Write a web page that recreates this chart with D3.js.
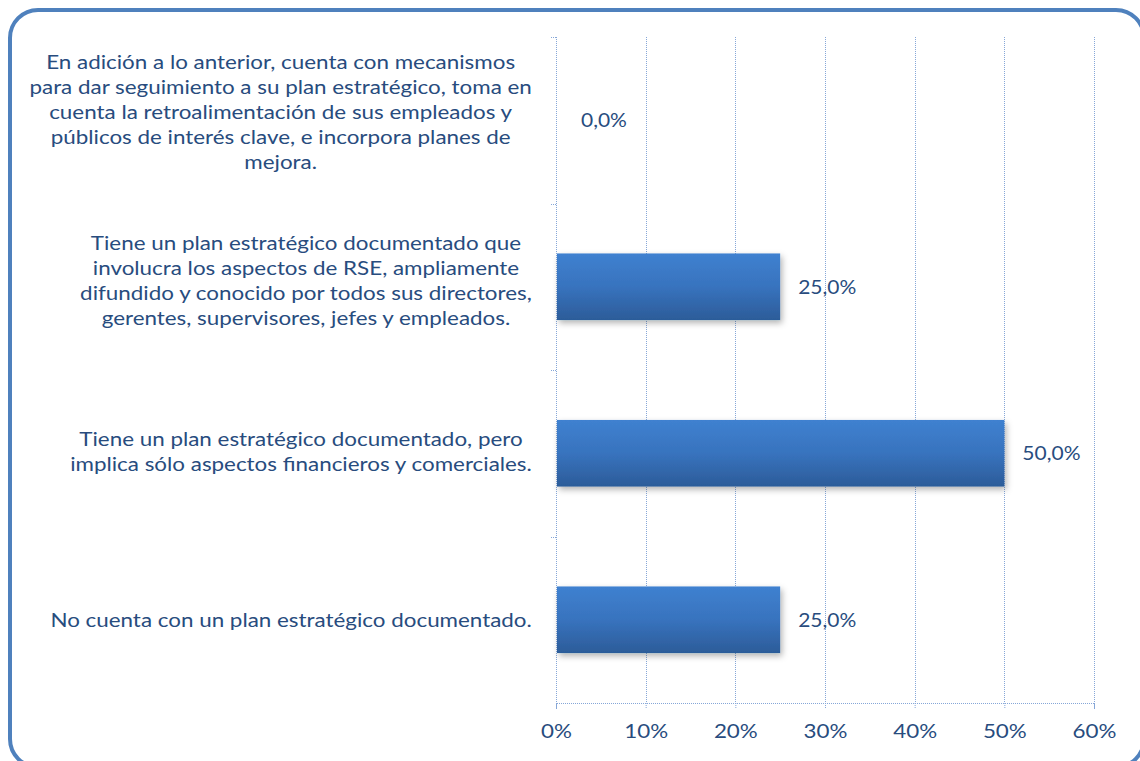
<!DOCTYPE html>
<html>
<head>
<meta charset="utf-8">
<script src="https://cdn.jsdelivr.net/npm/d3@7"></script>
<style>
  body { margin: 0; background: #fff; }
  svg { display: block; }
  text { font-family: Lato, "Open Sans", sans-serif; fill: #284c7e; }
</style>
</head>
<body>
<svg id="chart" width="1140" height="761"></svg>
<script>
// categories from top to bottom, each split into the lines shown
var categories = [
    ["En adición a lo anterior, cuenta con mecanismos",
     "para dar seguimiento a su plan estratégico, toma en",
     "cuenta la retroalimentación de sus empleados y",
     "públicos de interés clave, e incorpora planes de",
     "mejora."],
    ["Tiene un plan estratégico documentado que",
     "involucra los aspectos de RSE, ampliamente",
     "difundido y conocido por todos sus directores,",
     "gerentes, supervisores, jefes y empleados."],
    ["Tiene un plan estratégico documentado, pero",
     "implica sólo aspectos financieros y comerciales."],
    ["No cuenta con un plan estratégico documentado."]
];
var values = [0.0, 0.25, 0.50, 0.25];
var xTicks = [0, 0.1, 0.2, 0.3, 0.4, 0.5, 0.6];

var svg = d3.select("#chart"),
    margin = {top: 37, right: 46, bottom: 58, left: 556},
    width = +svg.attr("width") - margin.left - margin.right,
    height = +svg.attr("height") - margin.top - margin.bottom;

var stretch = 1.12; // text in the original is a bit wide

var defs = svg.append("defs");
var grad = defs.append("linearGradient")
    .attr("id", "barGrad")
    .attr("x1", 0).attr("y1", 0).attr("x2", 0).attr("y2", 1);
grad.append("stop").attr("offset", "0%").attr("stop-color", "#3f81d0");
grad.append("stop").attr("offset", "50%").attr("stop-color", "#3873be");
grad.append("stop").attr("offset", "100%").attr("stop-color", "#2c5c99");

var shadow = defs.append("filter").attr("id", "shadow")
    .attr("x", "-10%").attr("y", "-20%").attr("width", "130%").attr("height", "160%");
shadow.append("feDropShadow")
    .attr("dx", 2).attr("dy", 3).attr("stdDeviation", 3)
    .attr("flood-color", "#000").attr("flood-opacity", 0.3);

// outer rounded frame
svg.append("rect")
    .attr("x", 10).attr("y", 10)
    .attr("width", 1134).attr("height", 757)
    .attr("rx", 28).attr("ry", 28)
    .attr("fill", "none")
    .attr("stroke", "#4f81bd")
    .attr("stroke-width", 4);

var x = d3.scaleLinear().domain([0, 0.6]).range([0, width]);
var y = d3.scaleBand()
    .domain(d3.range(categories.length))
    .range([0, height])
    .paddingInner(0.6)
    .paddingOuter(0.3);

var g = svg.append("g")
    .attr("transform", "translate(" + margin.left + "," + margin.top + ")");

var gridColor = "#86a7d8";

// vertical dotted gridlines
g.selectAll(".grid")
    .data(xTicks.slice(1))
    .enter().append("line")
    .attr("class", "grid")
    .attr("x1", function(d) { return Math.round(x(d)) + 0.5; })
    .attr("x2", function(d) { return Math.round(x(d)) + 0.5; })
    .attr("y1", 0).attr("y2", height)
    .attr("stroke", gridColor)
    .attr("stroke-width", 1)
    .attr("stroke-dasharray", "1,1");

// bottom axis
var xAxis = g.append("g")
    .attr("transform", "translate(0," + height + ")")
    .call(d3.axisBottom(x).tickValues(xTicks).tickFormat(d3.format(".0%")).tickSize(6).tickPadding(15));
xAxis.select(".domain").attr("stroke", gridColor).attr("stroke-dasharray", "1,1");
xAxis.selectAll(".tick line").attr("stroke", gridColor).attr("stroke-dasharray", "1,1");
xAxis.selectAll(".tick text")
    .style("font-family", "Lato, 'Open Sans', sans-serif")
    .style("font-size", "20px")
    .attr("fill", "#284c7e")
    .attr("transform", "scale(" + stretch + ",1)");

// left axis line with ticks at band boundaries
var bounds = d3.range(categories.length).map(function(i) { return y(i) - y.step() * y.paddingInner() / 2; });
bounds[0] = 0;
g.append("line")
    .attr("x1", 0.5).attr("x2", 0.5)
    .attr("y1", 0).attr("y2", height)
    .attr("stroke", gridColor)
    .attr("stroke-dasharray", "1,1");
g.selectAll(".ytick")
    .data(bounds)
    .enter().append("line")
    .attr("class", "ytick")
    .attr("x1", -5).attr("x2", 0)
    .attr("y1", function(d) { return Math.round(d) + 0.5; })
    .attr("y2", function(d) { return Math.round(d) + 0.5; })
    .attr("stroke", gridColor)
    .attr("stroke-dasharray", "1,1");

// bars
g.selectAll(".bar")
    .data(values)
    .enter().append("rect")
    .attr("class", "bar")
    .attr("x", 1)
    .attr("y", function(d, i) { return y(i); })
    .attr("width", function(d) { return Math.max(0, x(d) - 1); })
    .attr("height", y.bandwidth())
    .attr("fill", "url(#barGrad)")
    .attr("filter", function(d) { return d > 0 ? "url(#shadow)" : null; })
    .style("display", function(d) { return d > 0 ? null : "none"; });

// value labels
var fmt = function(v) { return d3.format(".1f")(v * 100).replace(".", ",") + "%"; };
g.selectAll(".value")
    .data(values)
    .enter().append("text")
    .attr("class", "value")
    .attr("transform", function(d, i) {
        return "translate(" + (x(d) + (d > 0 ? 18 : 25)) + "," + (y(i) + y.bandwidth() / 2) + ") scale(1.05,1)";
    })
    .attr("dy", "0.35em")
    .style("font-size", "20px")
    .text(fmt);

// category labels: centered block, right edge near axis
var lineH = 25, rightEdge = 532;
categories.forEach(function(lines, i) {
    var cy = margin.top + y(i) + y.bandwidth() / 2 - (lines.length - 1) * 2;
    var t = svg.append("text")
        .style("font-size", "20px")
        .attr("text-anchor", "middle");
    lines.forEach(function(line, j) {
        t.append("tspan")
            .attr("x", 0)
            .attr("y", (j - (lines.length - 1) / 2) * lineH)
            .attr("dy", "0.35em")
            .text(line);
    });
    var w = d3.max(t.selectAll("tspan").nodes(), function(n) { return n.getComputedTextLength(); }) * stretch;
    t.attr("transform", "translate(" + (rightEdge - w / 2) + "," + cy + ") scale(" + stretch + ",1)");
});
</script>
</body>
</html>
